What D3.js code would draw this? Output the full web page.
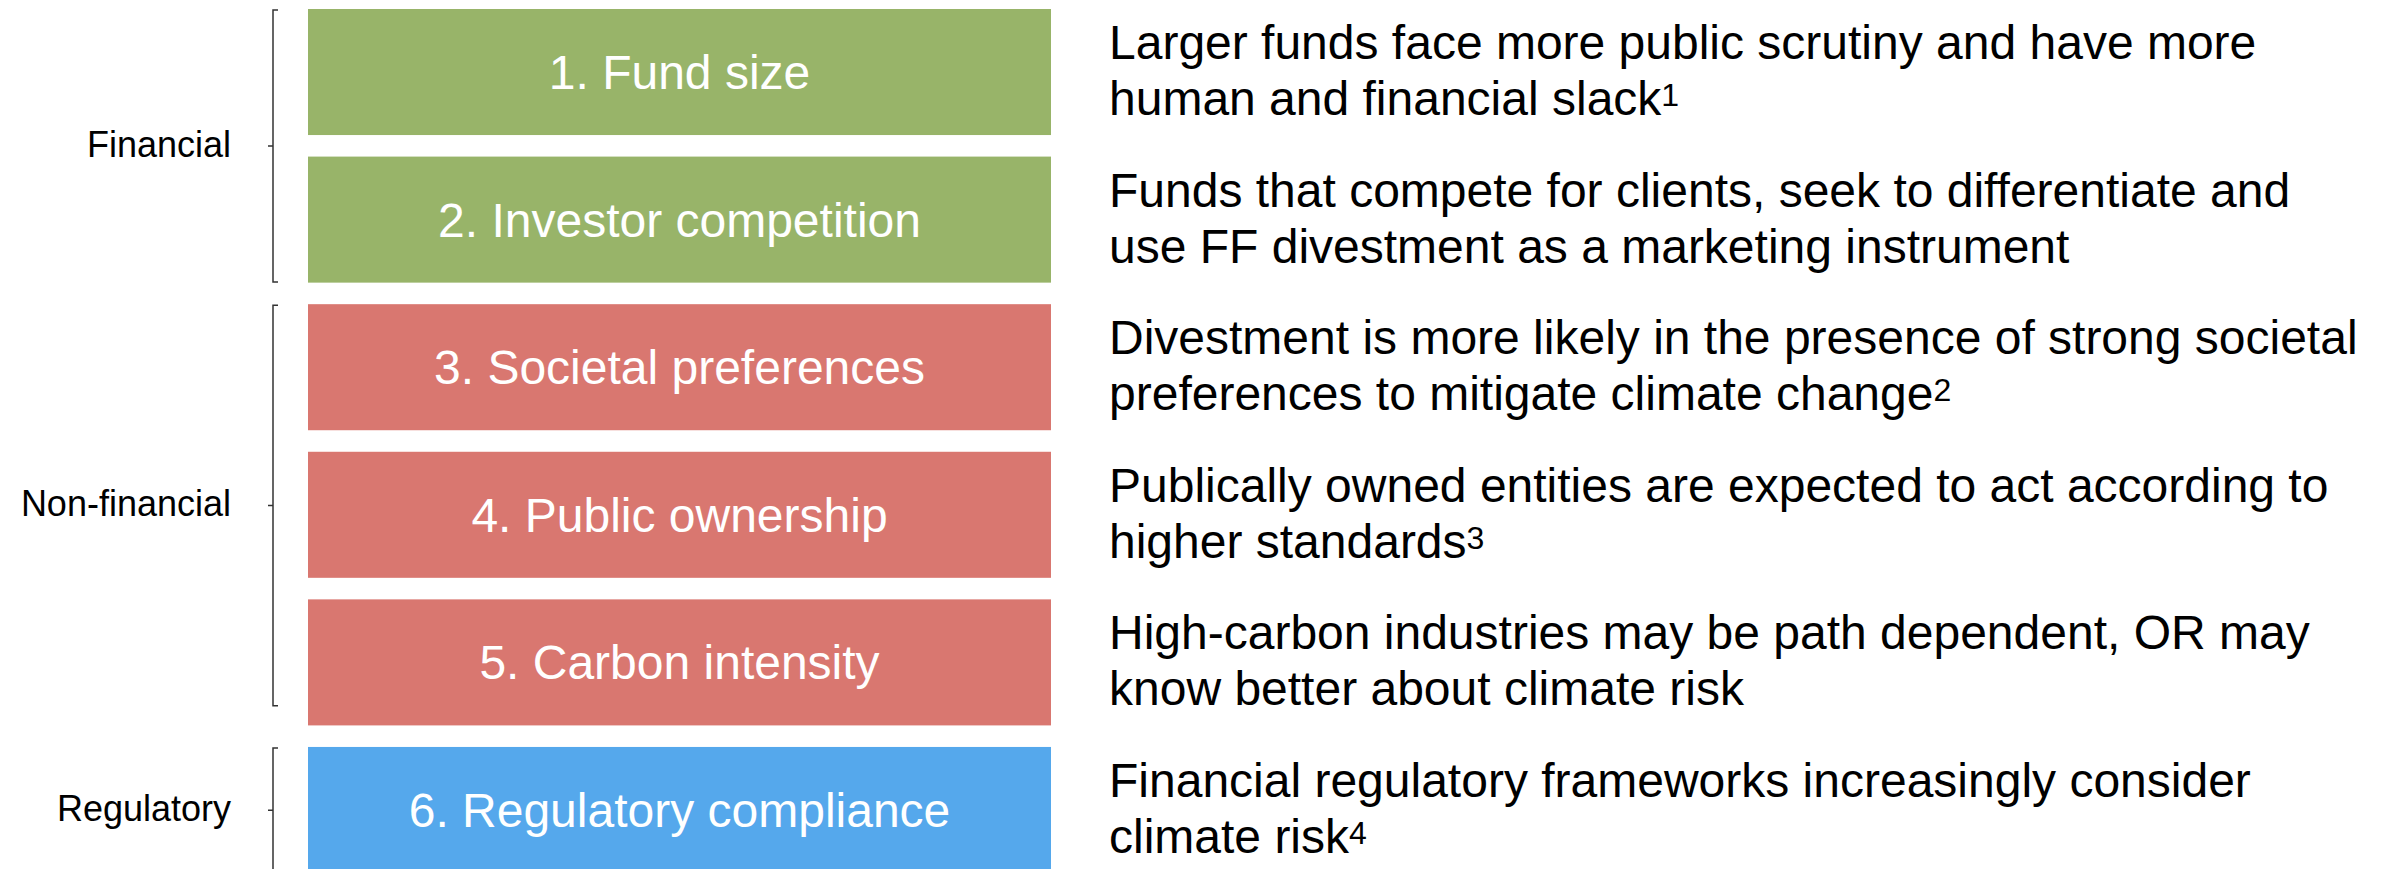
<!DOCTYPE html>
<html>
<head>
<meta charset="utf-8">
<script src="https://cdn.jsdelivr.net/npm/d3@7"></script>
<style>
  html, body { margin: 0; padding: 0; background: #fff; }
  svg { display: block; font-family: "Liberation Sans", Arial, sans-serif; }
</style>
</head>
<body>
<div id="chart"></div>
<script>
// drivers shown in the boxes
var drivers = ["1. Fund size", "2. Investor competition", "3. Societal preferences",
    "4. Public ownership", "5. Carbon intensity", "6. Regulatory compliance"];
var driverGroup = [0, 0, 1, 1, 1, 2];

// explanation next to each box, one entry per line
var descriptions = [
    ["Larger funds face more public scrutiny and have more", "human and financial slack"],
    ["Funds that compete for clients, seek to differentiate and", "use FF divestment as a marketing instrument"],
    ["Divestment is more likely in the presence of strong societal", "preferences to mitigate climate change"],
    ["Publically owned entities are expected to act according to", "higher standards"],
    ["High-carbon industries may be path dependent, OR may", "know better about climate risk"],
    ["Financial regulatory frameworks increasingly consider", "climate risk"]
];
var footnotes = ["1", "", "2", "3", "", "4"];

// groups on the left with the rows their bracket spans (in row units)
var groups = ["Financial", "Non-financial", "Regulatory"];
var groupSpans = [[0, 1.85], [2, 4.72], [5, 5.85]];
var groupColors = ["#98b469", "#d97770", "#55a8ec"];

function init() {
    var w = 2384;
    var h = 869;

    var svg = d3.select("#chart")
        .append("svg")
        .attr("width", w)
        .attr("height", h);

    var boxLeft = 308, boxRight = 1051;
    var descX = 1109;
    var bracketX = 273;

    var yBand = d3.scaleBand()
        .domain(drivers)
        .range([9, 873])
        .paddingInner(0.146)
        .paddingOuter(0);

    // row units -> pixels, for the brackets
    var yRow = d3.scaleLinear()
        .domain([0, 1])
        .range([9, 9 + yBand.step()]);

    // coloured boxes
    svg.selectAll("rect.driver")
        .data(drivers)
        .enter()
        .append("rect")
        .attr("class", "driver")
        .attr("x", boxLeft)
        .attr("y", function (d) { return yBand(d); })
        .attr("width", boxRight - boxLeft)
        .attr("height", yBand.bandwidth())
        .attr("fill", function (d, i) { return groupColors[driverGroup[i]]; });

    svg.selectAll("text.driver-label")
        .data(drivers)
        .enter()
        .append("text")
        .attr("class", "driver-label")
        .attr("x", (boxLeft + boxRight) / 2)
        .attr("y", function (d) { return yBand(d) + yBand.bandwidth() / 2 + 17; })
        .attr("text-anchor", "middle")
        .attr("font-size", 48)
        .attr("fill", "#fff")
        .text(function (d) { return d; });

    // descriptions on the right
    var desc = svg.selectAll("text.desc")
        .data(descriptions)
        .enter()
        .append("text")
        .attr("class", "desc")
        .attr("font-size", 48)
        .attr("fill", "#000");

    desc.each(function (lines, i) {
        var t = d3.select(this);
        var y0 = yBand(drivers[i]) + yBand.bandwidth() / 2 - 13;
        lines.forEach(function (line, j) {
            t.append("tspan")
                .attr("x", descX)
                .attr("y", y0 + j * 56)
                .text(line);
            if (j === lines.length - 1 && footnotes[i]) {
                t.append("tspan")
                    .attr("font-size", 32)
                    .attr("dy", -9)
                    .text(footnotes[i]);
            }
        });
    });

    // brackets for the groups
    var br = svg.selectAll("g.bracket")
        .data(groups)
        .enter()
        .append("g")
        .attr("class", "bracket");

    br.append("path")
        .attr("d", function (d, i) {
            var y0 = yRow(groupSpans[i][0]) + 1, y1 = yRow(groupSpans[i][1]);
            var ym = (y0 + y1) / 2;
            return "M" + (bracketX + 5) + "," + y0 + "H" + bracketX + "V" + y1 + "H" + (bracketX + 5) +
                "M" + bracketX + "," + ym + "H" + (bracketX - 5);
        })
        .attr("fill", "none")
        .attr("stroke", "#333")
        .attr("stroke-width", 1.5);

    br.append("text")
        .attr("x", 231)
        .attr("y", function (d, i) {
            return (yRow(groupSpans[i][0]) + yRow(groupSpans[i][1])) / 2 + 11;
        })
        .attr("text-anchor", "end")
        .attr("font-size", 36)
        .attr("fill", "#000")
        .text(function (d) { return d; });
}

window.onload = init;
</script>
</body>
</html>
